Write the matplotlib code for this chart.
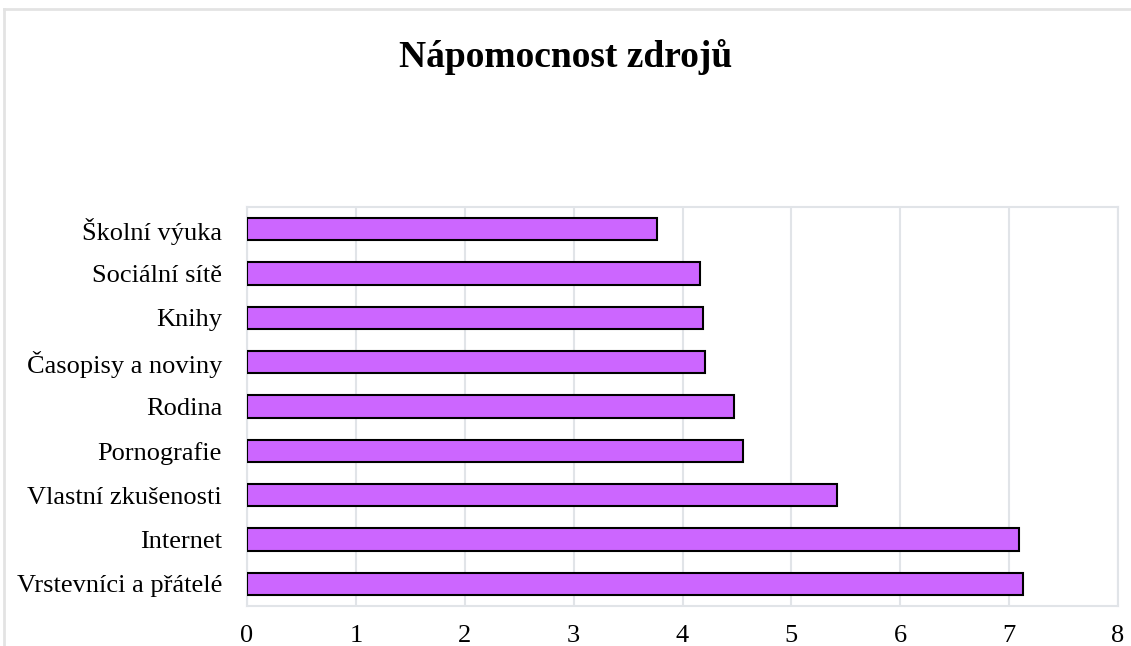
import matplotlib
matplotlib.use("Agg")
import matplotlib.pyplot as plt
from matplotlib.lines import Line2D

plt.rcParams['font.family'] = ['Liberation Serif', 'DejaVu Serif']

sources = ["Vrstevníci a přátelé", "Internet", "Vlastní zkušenosti", "Pornografie",
           "Rodina", "Časopisy a noviny", "Knihy", "Sociální sítě", "Školní výuka"]
scores = [7.13, 7.09, 5.42, 4.56, 4.47, 4.21, 4.19, 4.16, 3.77]
x_ticks = [0, 1, 2, 3, 4, 5, 6, 7, 8]

fig = plt.figure(figsize=(11.31, 6.46), dpi=100)
ax = fig.add_axes([0.2184, 0.0619, 0.9885 - 0.2184, 0.6796 - 0.0619])

ax.barh(range(len(sources)), scores, height=0.5, color="#CC66FF",
        edgecolor="black", linewidth=1.5, zorder=3)

ax.set_xlim(0, 8)
ax.set_ylim(len(sources) - 0.5, -0.5)
ax.invert_yaxis()
ax.set_xticks(x_ticks)
ax.set_xticklabels([str(t) for t in x_ticks])
ax.set_yticks(range(len(sources)))
ax.set_yticklabels(sources)
ax.tick_params(axis="both", length=0, labelsize=19, colors="black")
ax.tick_params(axis="x", pad=14)
ax.tick_params(axis="y", pad=18)
ax.grid(axis="x", color="#E1E4E8", linewidth=1.5, zorder=0)
for s in ax.spines.values():
    s.set_color("#E1E4E8")
    s.set_linewidth(1.5)

fig.text(0.5, 0.912, "Nápomocnost zdrojů", ha="center", va="center",
         fontsize=27, fontweight="bold")

# outer chart border (cropped)
fig.add_artist(Line2D([4 / 1131, 1], [1 - 9 / 646, 1 - 9 / 646],
                      transform=fig.transFigure, color="#E3E3E3", linewidth=2))
fig.add_artist(Line2D([4 / 1131, 4 / 1131], [0, 1 - 9 / 646],
                      transform=fig.transFigure, color="#E3E3E3", linewidth=2))

fig.savefig("out.png", dpi=100)
